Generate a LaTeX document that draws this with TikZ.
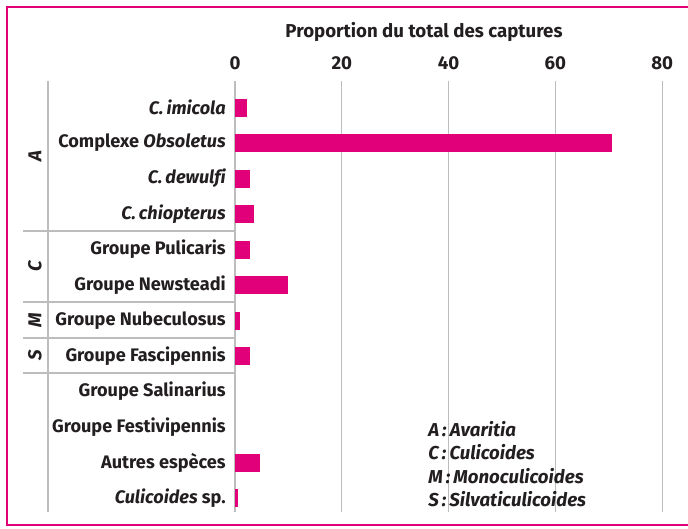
\documentclass[tikz,border=0pt]{standalone}
\usepackage{fontspec}
\setmainfont{Fira Sans}[Ligatures=NoCommon]
\definecolor{pinkc}{HTML}{E2007A}
\definecolor{gridc}{HTML}{BDBDBD}
\definecolor{txtc}{HTML}{231F20}
\begin{document}
\begin{tikzpicture}[x=0.75pt,y=-0.75pt,
  lab/.style={anchor=east,font=\fontsize{13.6}{15}\selectfont\bfseries,text=txtc,inner sep=0pt},
  num/.style={anchor=center,font=\fontsize{14}{16}\selectfont\bfseries,text=txtc,inner sep=0pt},
  grp/.style={anchor=center,rotate=90,font=\fontsize{14}{16}\selectfont\bfseries\itshape,text=txtc,inner sep=0pt},
  leg/.style={anchor=west,font=\fontsize{14}{16}\selectfont\bfseries\itshape,text=txtc,inner sep=0pt},
  gl/.style={draw=gridc,line width=0.8pt},
  bar/.style={fill=pinkc}]
\useasboundingbox (0,0) rectangle (688,528);
\fill[white] (0,0) rectangle (688,528);
\draw[pinkc,line width=2.2pt] (700,7) -- (7,7) -- (7,525) -- (700,525);
% grid
\foreach \v/\n in {0/g0,20/g20,40/g40,60/g60,80/g80}{
  \coordinate (\n t) at ({235+5.34*\v},81);
  \coordinate (\n b) at ({235+5.34*\v},512);
  \draw[gl] (\n t) -- (\n b);
  \node[num] (\n l) at ({235+5.34*\v},63) {\v};
}
\node[num] (title) at (424,32) {Proportion du total des captures};
% left panel
\coordinate (lt) at (48,81); \coordinate (lb) at (48,512);
\draw[gl] (lt) -- (lb);
\foreach \y/\n in {231/s1,302/s2,338/s3,373/s4}{
  \coordinate (\n a) at (23,\y); \coordinate (\n b) at (235,\y);
  \draw[gl] (\n a) -- (\n b);
}
\node[grp] (gA) at (35,156) {A};
\node[grp] (gC) at (35,266.5) {C};
\node[grp] (gM) at (35,320) {M};
\node[grp] (gS) at (35,355.5) {S};
% rows
\foreach \i/\e/\t/\n in {
 0/247/{\itshape C.\,imicola}/r0,
 1/612/{Complexe \itshape Obsoletus}/r1,
 2/250/{\itshape C.\,dewulfi}/r2,
 3/254/{\itshape C.\,chiopterus}/r3,
 4/250/{Groupe Pulicaris}/r4,
 5/288/{Groupe Newsteadi}/r5,
 6/240/{Groupe Nubeculosus}/r6,
 7/250/{Groupe Fascipennis}/r7,
 8/235/{Groupe Salinarius}/r8,
 9/235/{Groupe Festivipennis}/r9,
 10/260/{Autres espèces}/r10,
 11/238/{{\itshape Culicoides} sp.}/r11}{
  \node[lab] (\n) at (226,{107.5+35.5*\i}) {\t};
  \ifdim \e pt>235pt
    \fill[bar] (235,{107.5+35.5*\i-9}) rectangle (\e,{107.5+35.5*\i+9});
  \fi
}
% legend
\node[leg] (lA) at (428,429) {A\,:\,Avaritia};
\node[leg] (lC) at (428,452.5) {C\,:\,Culicoides};
\node[leg] (lM) at (428,476) {M\,:\,Monoculicoides};
\node[leg] (lS) at (428,499.5) {S\,:\,Silvaticulicoides};
\end{tikzpicture}
\end{document}
